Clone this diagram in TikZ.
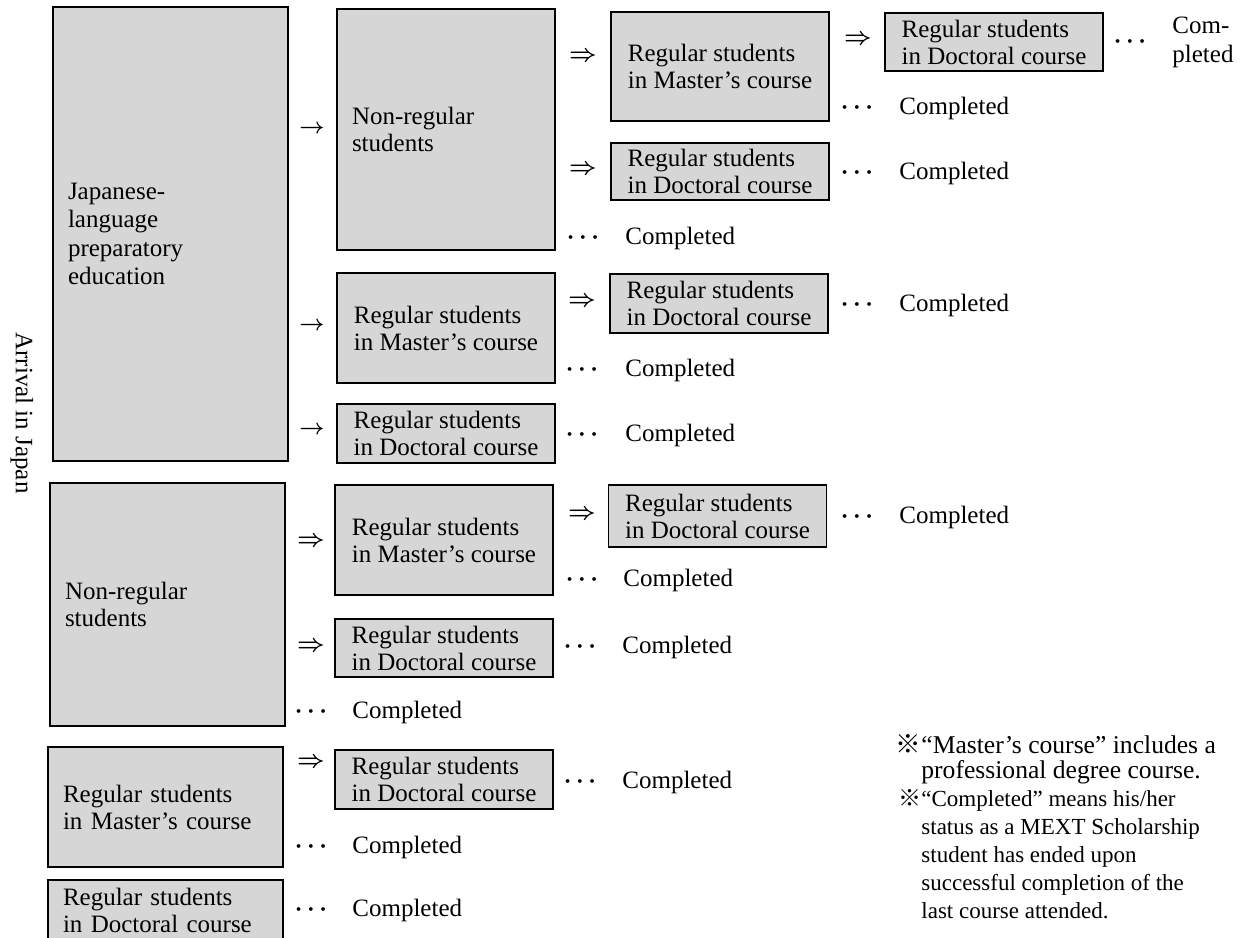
\documentclass[tikz,border=0pt]{standalone}
\usepackage{fontspec}
\setmainfont{Liberation Serif}
\newfontfamily\cjk{Noto Sans CJK JP}
\begin{document}
\begin{tikzpicture}[x=0.5pt,y=-0.5pt,
  every node/.style={font=\fontsize{12.5}{13.5}\selectfont},
  box/.style={draw=black, line width=0.8pt, fill=black!16, inner xsep=7.5pt, inner ysep=0pt, align=left},
  lbox/.style={box, text width=102.5pt},
  nbox/.style={box, text width=94pt},
  cbox/.style={box, inner xsep=2pt, minimum width=109pt},
  arr/.style={inner sep=0pt, font=\fontsize{10.5}{10.5}\selectfont\boldmath},
  darr/.style={inner sep=0pt, font=\fontsize{12}{12}\selectfont\boldmath},
  dots/.style={inner sep=0pt, font=\fontsize{13}{13}\selectfont\boldmath},
  done/.style={inner sep=0pt, anchor=west}
]
\useasboundingbox (0,0) rectangle (1246,937);

% column 1
\node[lbox, minimum height=227pt, font=\fontsize{12.5}{14.2}\selectfont] (jp) at (170.5,234) {Japanese-\\language\\preparatory\\education};
\node[lbox, minimum height=121.5pt] (nr1) at (167.5,604.5) {Non-regular\\students};
\node[lbox, minimum height=60pt] (ms1) at (165.5,807) {Regular students\\in Master’s course};
\node[lbox, minimum height=30pt] (dc1) at (165.5,910) {Regular students\\in Doctoral course};

% column 2
\node[nbox, minimum height=120.5pt] (nr2) at (446,129.5) {Non-regular\\students};
\node[cbox, minimum height=55pt] (ms2) at (446,328) {Regular students\\in Master’s course};
\node[cbox, minimum height=29.5pt] (dc2) at (446,433.5) {Regular students\\in Doctoral course};
\node[cbox, minimum height=55pt] (ms3) at (444,540) {Regular students\\in Master’s course};
\node[cbox, minimum height=29pt] (dc3) at (444,648) {Regular students\\in Doctoral course};
\node[cbox, minimum height=29.5pt] (dc4) at (444,779.5) {Regular students\\in Doctoral course};

% column 3
\node[cbox, minimum height=54.5pt] (ms4) at (720,66.5) {Regular students\\in Master’s course};
\node[cbox, minimum height=28.5pt] (dc5) at (720,171.5) {Regular students\\in Doctoral course};
\node[cbox, minimum height=29.5pt] (dc6) at (719,303.5) {Regular students\\in Doctoral course};
\node[cbox, minimum height=31pt] (dc7) at (717.5,516) {Regular students\\in Doctoral course};

% column 4
\node[cbox, minimum height=29pt] (dc8) at (994,42) {Regular students\\in Doctoral course};

% arrows column 1 -> 2
\node[arr] (a1) at (312,129) {$\rightarrow$};
\node[arr] (a2) at (312,326) {$\rightarrow$};
\node[arr] (a3) at (312,430) {$\rightarrow$};
\node[darr] (a4) at (311,542) {$\Rightarrow$};
\node[darr] (a5) at (311,647) {$\Rightarrow$};
\node[darr] (a6) at (311,763) {$\Rightarrow$};

% arrows column 2 -> 3
\node[darr] (b1) at (583,57) {$\Rightarrow$};
\node[darr] (b2) at (583,170) {$\Rightarrow$};
\node[darr] (b3) at (582,302) {$\Rightarrow$};
\node[darr] (b4) at (582,515) {$\Rightarrow$};

% arrow column 3 -> 4
\node[darr] (e1) at (858,40) {$\Rightarrow$};

% completed, column 1
\node[dots] (d1) at (311,712) {$\cdots$};
\node[done] (c1) at (352,712) {Completed};
\node[dots] (d2) at (311,847) {$\cdots$};
\node[done] (c2) at (352,847) {Completed};
\node[dots] (d3) at (311,910) {$\cdots$};
\node[done] (c3) at (352,910) {Completed};

% completed, column 2
\node[dots] (d4) at (583,238) {$\cdots$};
\node[done] (c4) at (625,238) {Completed};
\node[dots] (d5) at (582,370) {$\cdots$};
\node[done] (c5) at (625,370) {Completed};
\node[dots] (d6) at (582,435) {$\cdots$};
\node[done] (c6) at (625,435) {Completed};
\node[dots] (d7) at (582,580) {$\cdots$};
\node[done] (c7) at (623,580) {Completed};
\node[dots] (d8) at (580,647) {$\cdots$};
\node[done] (c8) at (622,647) {Completed};
\node[dots] (d9) at (580,782) {$\cdots$};
\node[done] (c9) at (622,782) {Completed};

% completed, column 3
\node[dots] (d10) at (857,108) {$\cdots$};
\node[done] (c10) at (899,108) {Completed};
\node[dots] (d11) at (857,173) {$\cdots$};
\node[done] (c11) at (899,173) {Completed};
\node[dots] (d12) at (857,305) {$\cdots$};
\node[done] (c12) at (899,305) {Completed};
\node[dots] (d13) at (857,517) {$\cdots$};
\node[done] (c13) at (899,517) {Completed};

% completed, column 4
\node[dots] (d14) at (1130,42) {$\cdots$};
\node[done, align=left, font=\fontsize{12.5}{14.5}\selectfont] (c14) at (1172,42) {Com-\\pleted};

% side label
\node[rotate=-90] (arrival) at (22,413) {Arrival in Japan};

% notes
\node[anchor=north west, inner sep=0pt, align=left, font=\fontsize{12.8}{12.8}\selectfont] (n1) at (921,734) {\llap{{\cjk ※}}“Master’s course” includes a\\professional degree course.};
\node[anchor=north west, inner sep=0pt, align=left, font=\fontsize{11.5}{14}\selectfont] (n2) at (921,789) {\llap{{\cjk ※}}“Completed” means his/her\\status as a MEXT Scholarship\\student has ended upon\\successful completion of the\\last course attended.};
\end{tikzpicture}
\end{document}
